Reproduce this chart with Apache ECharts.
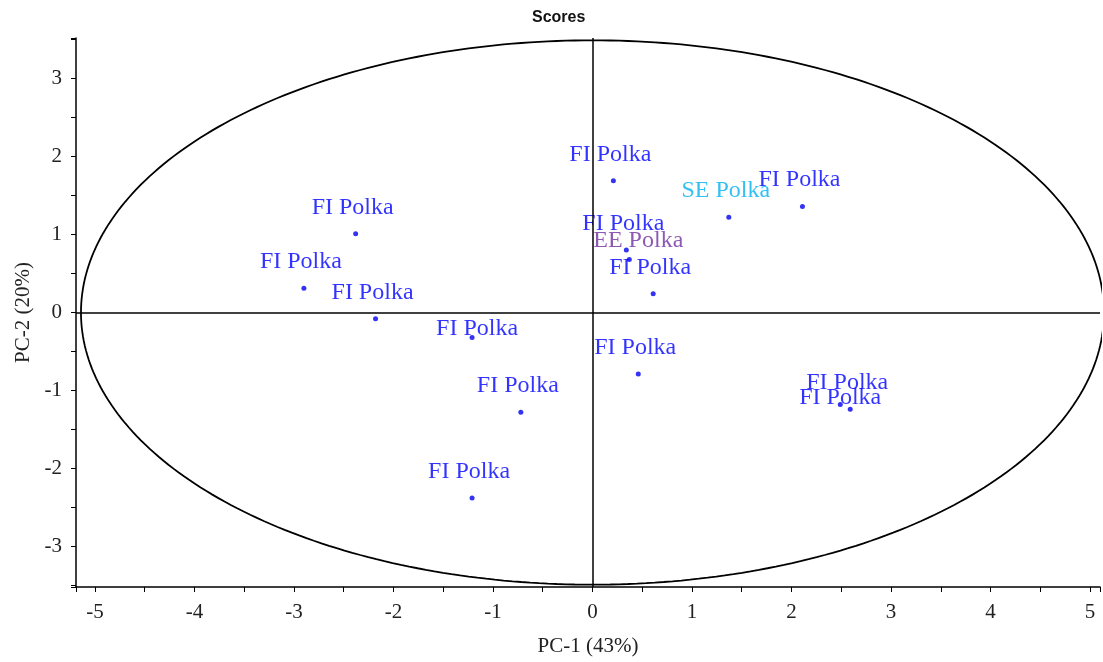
<!DOCTYPE html>
<html>
<head>
<meta charset="utf-8">
<script src="https://cdn.jsdelivr.net/npm/echarts@6/dist/echarts.min.js"></script>
<style>html,body{margin:0;padding:0;background:#fff;}#c{width:1103px;height:662px;}</style>
</head>
<body>
<div id="c"></div>
<script>
// ---- data ----
const sampleNames = ['FI Polka','FI Polka','SE Polka','FI Polka','FI Polka','EE Polka','FI Polka','FI Polka','FI Polka','FI Polka','FI Polka','FI Polka','FI Polka','FI Polka','FI Polka'];
const pc1 = [0.21, 2.11, 1.37, -2.38, 0.34, 0.37, 0.61, -2.90, -2.18, -1.21, 0.46, -0.72, 2.49, 2.59, -1.21];
const pc2 = [1.69, 1.36, 1.22, 1.01, 0.80, 0.68, 0.24, 0.31, -0.08, -0.32, -0.79, -1.28, -1.18, -1.24, -2.38];
const ellipseRadii = [5.14, 3.49]; // Hotelling T2 ellipse semi-axes (PC-1, PC-2)
const xRange = [-5.19, 5.10];
const yRange = [-3.52, 3.52];
const xTitle = 'PC-1 (43%)';
const yTitle = 'PC-2 (20%)';
const chartTitle = 'Scores';

// ---- styling ----
const labelColors = {'FI Polka':'#0000ff','SE Polka':'#00b0f0','EE Polka':'#7030a0'};
const labelShift = {5:[12,8], 9:[8,18], 12:[3,20]}; // label collision adjustments
const serif = 'Liberation Serif';

const ellipsePts = [];
for (let k = 0; k <= 360; k++) {
  const t = k * Math.PI / 180;
  ellipsePts.push([ellipseRadii[0] * Math.cos(t), ellipseRadii[1] * Math.sin(t)]);
}

const isInt = v => Math.abs(v - Math.round(v)) < 1e-6;

const chart = echarts.init(document.getElementById('c'), null, {renderer:'canvas'});
chart.setOption({
  animation: false,
  backgroundColor: '#fff',
  title: {
    text: chartTitle, left: 527, top: 5,
    textStyle: {fontFamily:'Liberation Sans', fontSize:16, fontWeight:'bold', color:'#111'}
  },
  grid: {left:76, right:0, top:38, bottom:74, containLabel:false},
  xAxis: {
    type:'value', min:xRange[0], max:xRange[1], splitNumber:20, minInterval:0.5, maxInterval:0.5,
    name: xTitle, nameLocation:'middle', nameGap:49,
    nameTextStyle:{fontFamily:serif, fontSize:21, color:'#222'},
    axisLine:{onZero:false, lineStyle:{color:'#000', width:1.5}},
    axisTick:{show:true, length:5, lineStyle:{color:'#000'}},
    axisLabel:{fontFamily:serif, fontSize:21, color:'#222', margin:15, showMinLabel:true, showMaxLabel:true,
      formatter: v => isInt(v) ? String(Math.round(v)) : ''},
    splitLine:{show:false}
  },
  yAxis: {
    type:'value', min:yRange[0], max:yRange[1], splitNumber:14, minInterval:0.5, maxInterval:0.5,
    name: yTitle, nameLocation:'middle', nameGap:42, nameRotate:90,
    nameTextStyle:{fontFamily:serif, fontSize:21, color:'#222'},
    axisLine:{onZero:false, lineStyle:{color:'#000', width:1.5}},
    axisTick:{show:true, length:5, lineStyle:{color:'#000'}},
    axisLabel:{fontFamily:serif, fontSize:21, color:'#222', margin:14, showMinLabel:true, showMaxLabel:true,
      formatter: v => isInt(v) ? String(Math.round(v)) : ''},
    splitLine:{show:false}
  },
  series: [
    {
      type:'line', data: ellipsePts, showSymbol:false, symbol:'none', silent:true,
      lineStyle:{color:'#000', width:1.8}, z:1,
      markLine:{
        silent:true, symbol:['none','none'], label:{show:false},
        lineStyle:{color:'#000', width:1.5, type:'solid'},
        data:[{xAxis:0},{yAxis:0}]
      }
    },
    {
      type:'scatter', symbolSize:5, z:3,
      itemStyle:{color:'#0000ee'},
      label:{show:true, position:'top', distance:12, offset:[-3,0],
        fontFamily:serif, fontSize:24, formatter: p => p.name},
      data: pc1.map((x,i) => ({
        name: sampleNames[i], value:[x, pc2[i]],
        label:{color: labelColors[sampleNames[i]],
          offset: labelShift[i] ? [-3 + labelShift[i][0], labelShift[i][1]] : [-3,0]}
      }))
    }
  ]
});
</script>
</body>
</html>
